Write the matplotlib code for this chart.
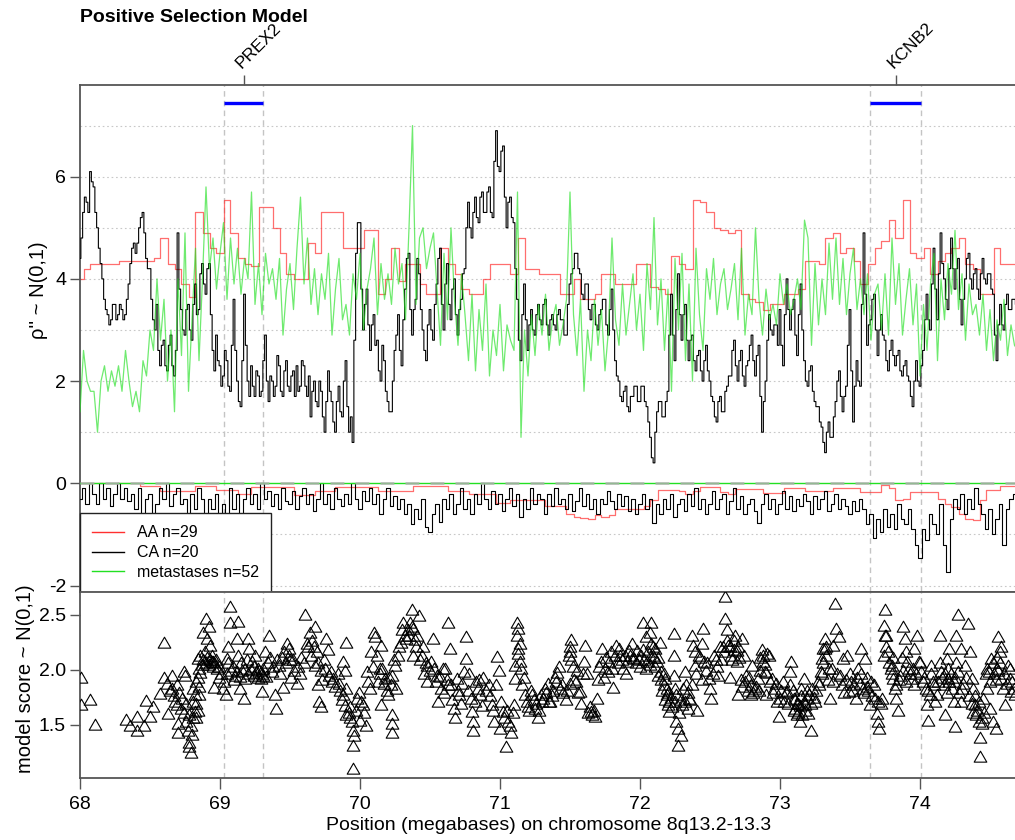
import numpy as np
import matplotlib
matplotlib.use("Agg")
import matplotlib.pyplot as plt
from matplotlib.path import Path
from matplotlib.lines import Line2D

plt.rcParams['font.family'] = ['Liberation Sans', 'DejaVu Sans']

# ---------------------------------------------------------------- data
# per-probe scores are binned on a regular grid along the chromosome (Mb)
GRID_START = 68.0
CA_POS_STEP = 0.0125   # CA positive-selection bins
BIN_STEP = 0.025       # CA negative and metastases bins
AA_STEP = 0.05         # AA bins

ca_pos = [
    4.4, 4.8, 5.3, 5.6, 5.5, 5.3, 6.1, 5.9,  5.8, 5.3, 5.0, 4.6, 4.3, 4.0, 3.6, 3.4,
    3.3, 3.1, 3.2, 3.5, 3.5, 3.2, 3.3, 3.5,  3.4, 3.2, 3.3, 3.6, 3.9, 4.3, 4.6, 4.7,
    4.5, 4.7, 5.0, 5.2, 5.3, 4.9, 4.4, 4.2,  4.2, 3.6, 3.2, 3.0, 3.5, 2.6, 2.3, 2.7,
    2.8, 2.3, 2.2, 2.7, 2.9, 2.3, 2.1, 2.6,  4.9, 3.8, 3.4, 3.0, 2.9, 3.4, 3.5, 3.0,
    2.8, 3.5, 3.9, 3.3, 3.4, 4.1, 4.3, 3.9,  3.7, 4.2, 4.3, 3.3, 2.6, 2.2, 2.9, 2.4,
    2.3, 1.9, 2.1, 2.6, 2.4, 1.9, 1.8, 2.7,  3.6, 2.6, 2.0, 1.6, 1.5, 2.4, 3.7, 2.7,
    2.0, 1.7, 2.3, 1.9, 1.7, 2.2, 2.1, 1.7,  1.8, 2.4, 2.9, 2.0, 1.6, 2.1, 2.0, 1.7,
    1.9, 2.5, 2.3, 1.8, 1.7, 2.2, 2.4, 1.9,  1.8, 2.1, 2.2, 1.7, 2.3, 1.8, 1.9, 2.4,
    2.3, 1.9, 1.7, 2.1, 1.3, 1.8, 2.0, 1.6,  1.5, 2.0, 1.8, 1.3, 1.0, 1.6, 2.2, 1.8,
    1.6, 1.2, 1.0, 1.6, 1.9, 1.4, 1.3, 2.0,  2.4, 1.5, 1.0, 1.3, 0.8, 2.8, 4.5, 5.1,
    5.1, 3.8, 3.0, 3.5, 3.8, 3.1, 2.6, 3.1,  3.3, 2.7, 2.8, 2.2, 2.0, 2.7, 2.4, 1.8,
    1.6, 1.4, 1.4, 2.0, 2.6, 2.9, 3.3, 2.6,  2.3, 3.2, 3.8, 4.4, 4.5, 3.4, 2.9, 3.4,
    3.6, 4.4, 4.1, 3.4, 3.0, 2.6, 2.4, 3.1,  3.4, 3.0, 2.8, 3.5, 3.9, 4.4, 4.6, 3.5,
    3.0, 3.9, 4.3, 3.5, 3.2, 3.8, 4.0, 3.3,  2.9, 3.4, 3.6, 4.1, 4.2, 5.0, 5.5, 5.0,
    4.8, 5.3, 5.6, 5.2, 5.1, 5.6, 5.7, 5.3,  5.3, 5.7, 5.8, 5.3, 5.2, 6.3, 6.9, 6.2,
    6.1, 6.5, 6.6, 5.6, 5.0, 5.5, 5.6, 5.2,  5.1, 4.2, 3.6, 2.8, 2.4, 3.3, 3.9, 3.2,
    2.6, 3.1, 3.4, 3.0, 2.9, 3.3, 3.5, 3.2,  3.1, 3.5, 3.6, 3.1, 2.9, 3.2, 3.3, 3.1,
    3.0, 3.3, 3.4, 3.2, 3.2, 2.9, 2.9, 3.5,  3.9, 4.1, 4.2, 4.5, 4.5, 4.2, 4.1, 3.7,
    3.6, 3.9, 3.9, 3.4, 3.2, 3.5, 3.5, 3.1,  3.0, 3.3, 3.4, 3.6, 3.6, 3.1, 2.9, 3.4,
    3.8, 3.0, 2.4, 2.1, 2.0, 1.7, 1.6, 1.8,  1.9, 1.5, 1.4, 1.7, 1.7, 1.9, 1.9, 1.6,
    1.6, 1.9, 1.9, 1.6, 1.5, 1.2, 0.9, 0.5,  0.4, 1.0, 1.4, 1.6, 1.6, 1.3, 1.3, 1.6,
    1.8, 2.9, 3.7, 2.9, 2.4, 3.4, 4.1, 3.3,  2.8, 3.3, 3.5, 2.8, 2.4, 2.8, 2.9, 2.4,
    2.2, 2.5, 2.6, 2.2, 2.0, 2.4, 2.7, 2.2,  2.0, 1.7, 1.6, 1.3, 1.2, 1.6, 1.7, 1.4,
    1.4, 1.8, 1.9, 2.1, 2.1, 2.6, 2.8, 2.3,  2.0, 2.4, 2.6, 2.1, 1.9, 2.3, 2.4, 2.7,
    2.9, 2.4, 2.1, 2.5, 2.7, 1.7, 1.0, 1.6,  2.0, 2.8, 3.3, 3.0, 2.9, 3.1, 3.1, 2.7,
    3.4, 2.7, 2.3, 3.3, 4.0, 3.4, 3.0, 3.4,  3.6, 2.9, 2.5, 3.3, 3.9, 3.0, 2.4, 2.0,
    1.9, 2.2, 2.3, 1.8, 1.6, 1.5, 1.5, 1.2,  1.1, 0.8, 0.6, 1.0, 1.2, 0.9, 0.9, 1.3,
    1.6, 2.0, 2.2, 1.7, 1.4, 1.7, 1.9, 2.7,  3.4, 2.2, 1.2, 1.9, 2.4, 2.0, 1.9, 3.5,
    4.9, 3.7, 2.7, 3.1, 3.2, 3.6, 3.7, 3.0,  2.5, 3.0, 3.3, 2.9, 2.8, 2.4, 2.2, 2.6,
    2.8, 2.5, 2.3, 2.5, 2.6, 2.2, 2.1, 2.3,  2.4, 2.1, 2.0, 1.7, 1.5, 2.0, 2.4, 2.0,
    1.9, 2.3, 2.6, 3.2, 3.7, 3.2, 3.0, 3.9,  4.6, 3.8, 3.2, 4.1, 4.9, 4.3, 4.0, 3.6,
    3.4, 4.2, 4.8, 4.2, 3.8, 4.2, 4.4, 3.6,  3.1, 3.6, 4.0, 4.4, 4.5, 4.0, 3.8, 4.1,
    4.2, 3.8, 3.6, 4.1, 4.4, 4.0, 3.9, 4.1,  4.1, 3.8, 3.7, 2.9, 2.4, 3.1, 3.5, 3.1,
    3.0, 3.5, 3.7, 3.4, 3.4, 3.6, 3.6, 3.5,  3.6,
]

ca_neg = [
    -0.3, -0.1, -0.4, 0.0,  -0.2, -0.4, 0.0, -0.3,  -0.1, -0.45, -0.2, 0.0,  -0.3, -0.1, -0.35, -0.2,
    -0.5, -0.1, -0.6, -0.3,  -0.2, -0.72, -0.4, -0.1,  -0.3, 0.0, -0.45, -0.2,  -0.1, -0.4, -0.3, -0.6,
    -0.2, -0.5, -0.1, -0.3,  -0.6, -0.3, -0.5, -0.2,  -0.78, -0.4, -0.6, -0.1,  -0.5, -0.2, -0.6, -0.3,
    -0.1, -0.4, -0.2, -0.5,  0.0, -0.3, -0.15, -0.45,  -0.2, -0.5, -0.1, -0.35,  -0.4, -0.15, -0.5, -0.25,
    -0.1, -0.4, -0.2, -0.55,  -0.3, 0.0, -0.4, -0.2,  -0.5, -0.1, -0.3, -0.45,  -0.2, -0.4, 0.0, -0.3,
    -0.5, -0.15, -0.35, -0.1,  -0.4, -0.2, -0.6, -0.3,  -0.1, -0.45, -0.25, -0.5,  -0.3, -0.6, -0.4, -0.8,
    -0.5, -0.7, -0.3, -0.85,  -0.95, -0.6, -0.4, -0.75,  -0.3, -0.5, -0.2, -0.6,  -0.4, -0.1, -0.5, -0.3,
    -0.6, -0.2, -0.4, 0.0,  -0.3, -0.5, -0.15, -0.4,  -0.2, -0.55, -0.3, -0.1,  -0.45, -0.2, -0.65, -0.3,
    -0.5, -0.1, -0.4, -0.2,  -0.3, -0.6, -0.2, -0.45,  -0.1, -0.4, -0.3, -0.5,  -0.2, -0.55, -0.35, -0.1,
    -0.45, -0.2, -0.5, -0.3,  -0.6, -0.3, -0.4, -0.15,  -0.35, -0.5, -0.2, -0.45,  -0.25, -0.55, -0.3, -0.6,
    -0.4, -0.2, -0.5, -0.3,  -0.78, -0.4, -0.6, -0.3,  -0.5, -0.2, -0.65, -0.4,  -0.3, -0.55, -0.2, -0.45,
    -0.1, -0.5, -0.3, -0.6,  -0.4, -0.15, -0.5, -0.3,  -0.2, -0.6, -0.35, -0.1,  -0.5, -0.25, -0.6, -0.4,
    -0.3, -0.55, -0.78, -0.4,  -0.2, -0.5, -0.3, -0.6,  -0.4, -0.15, -0.5, -0.25,  -0.55, -0.3, -0.45, -0.2,
    -0.35, -0.6, -0.25, -0.5,  -0.3, -0.15, -0.55, -0.4,  -0.2, -0.5, -0.3, -0.45,  -0.6, -0.35, -0.55, -0.3,
    -0.5, -0.8, -0.6, -1.08,  -0.7, -0.95, -0.5, -0.85,  -0.6, -0.9, -0.4, -0.7,  -0.8, -0.5, -0.9, -1.2,
    -1.47, -0.9, -1.1, -0.6,  -0.8, -1.0, -0.4, -1.2,  -1.73, -0.7, -0.3, -0.5,  -0.2, -0.6, -0.3, -0.5,
    -0.1, -0.4, -0.6, -0.9,  -0.5, -1.0, -0.7, -0.4,  -1.2, -0.5, -0.3, -0.2,  -0.3,
]

met_pos = [
    1.4, 2.6, 2.0, 1.8,  1.8, 1.0, 2.0, 2.3,  1.8, 2.2, 1.9, 2.3,  1.8, 2.6, 2.0, 1.5,
    1.8, 1.4, 2.4, 2.1,  3.0, 2.6, 4.0, 2.8,  3.6, 2.0, 3.0, 1.4,  4.0, 2.5, 4.9, 1.8,
    3.2, 4.6, 2.4, 4.0,  5.8, 4.2, 4.8, 3.8,  4.5, 5.1, 3.6, 4.8,  3.9, 4.6, 3.7, 4.4,
    4.0, 5.7, 3.5, 4.3,  3.3, 4.5, 3.9, 4.2,  3.6, 4.4, 2.9, 3.8,  4.3, 3.4, 4.6, 5.6,
    3.9, 4.8, 3.5, 4.2,  3.3, 4.1, 3.6, 4.5,  2.9, 3.8, 4.4, 3.2,  3.5, 2.9, 4.1, 3.6,
    4.5, 3.0, 3.8, 4.2,  4.8, 3.3, 4.3, 3.6,  4.1, 3.5, 4.6, 3.9,  4.3, 3.2, 5.0, 7.0,
    3.5, 4.8, 5.0, 4.2,  4.6, 4.9, 3.8, 2.7,  4.5, 3.2, 5.0, 3.6,  2.7, 4.1, 3.3, 2.4,
    3.7, 2.2, 3.4, 2.6,  3.9, 2.1, 3.0, 2.5,  3.5, 2.2, 3.1, 2.8,  2.6, 5.7, 0.9, 3.0,
    2.1, 3.3, 2.5, 3.5,  2.9, 3.7, 2.6, 3.2,  3.5, 2.7, 3.1, 3.6,  5.7, 3.3, 2.5, 3.6,
    1.8, 3.0, 2.4, 3.6,  2.7, 3.4, 2.2, 3.0,  4.8, 3.2, 2.7, 3.9,  2.9, 3.5, 4.1, 3.0,
    3.7, 2.6, 4.3, 3.4,  5.2, 3.1, 4.0, 2.6,  3.8, 1.8, 4.4, 3.0,  4.5, 2.4, 3.9, 2.0,
    4.6, 3.3, 2.6, 4.2,  3.6, 4.4, 3.3, 3.9,  4.2, 3.4, 3.8, 4.3,  3.2, 4.6, 2.9, 3.7,
    3.3, 5.0, 3.6, 2.9,  3.8, 3.2, 3.5, 3.1,  4.1, 3.5, 3.9, 3.3,  3.6, 4.0, 3.4, 5.15,
    4.8, 2.7, 4.3, 3.1,  4.0, 3.3, 4.7, 3.6,  4.8, 3.5, 4.4, 3.3,  4.1, 4.6, 3.4, 4.0,
    3.3, 4.1, 2.8, 3.7,  3.9, 3.0, 4.1, 2.9,  4.8, 3.5, 4.3, 2.9,  3.6, 4.2, 3.1, 3.9,
    2.1, 3.5, 2.6, 3.9,  4.5, 2.4, 4.0, 3.2,  4.3, 3.7, 4.95, 3.4,  4.1, 2.8, 3.9, 3.3,
    3.5, 2.9, 3.7, 2.6,  3.4, 2.4, 3.2, 2.8,  3.6, 2.5, 3.1, 2.7,  2.6,
]

aa_pos = [
    4.0, 4.2, 4.3, 4.3, 4.3, 4.3, 4.35, 4.35, 4.35, 4.35,
    4.35, 4.4, 4.8, 4.3, 4.2, 3.9, 3.65, 5.3, 4.9, 4.6,
    4.5, 5.55, 4.9, 4.4, 4.3, 4.25, 5.4, 5.4, 5.0, 4.5,
    4.1, 4.0, 4.0, 4.7, 4.5, 5.3, 5.3, 5.3, 4.6, 4.6,
    4.6, 4.95, 4.95, 3.7, 4.0, 4.6, 3.95, 4.3, 4.3, 3.9,
    3.7, 3.7, 4.6, 4.3, 4.1, 3.8, 3.7, 3.7, 4.0, 4.3,
    4.3, 4.3, 4.1, 4.8, 4.2, 4.2, 4.1, 4.1, 4.1, 3.7,
    3.7, 4.0, 3.6, 3.6, 3.7, 4.1, 4.1, 3.9, 3.9, 3.9,
    4.3, 4.3, 3.85, 3.8, 3.7, 4.45, 4.3, 4.2, 5.55, 5.5,
    5.3, 5.0, 4.95, 4.9, 4.95, 3.7, 3.6, 3.55, 3.4, 3.5,
    3.5, 3.7, 3.7, 3.8, 4.35, 4.35, 4.3, 4.8, 4.9, 4.5,
    4.6, 4.35, 3.9, 4.3, 4.6, 4.75, 5.15, 4.8, 5.55, 4.5,
    4.4, 4.6, 4.1, 4.35, 4.5, 4.6, 4.8, 4.3, 4.2, 3.7,
    3.7, 4.6, 4.3, 4.3, 4.3,
]

aa_neg = [
    0.0, 0.0, 0.0, 0.0, 0.0, 0.0, 0.0, 0.0, 0.0, -0.05,
    -0.05, -0.05, -0.15, -0.15, -0.15, -0.15, -0.15, -0.06, -0.06, -0.06,
    -0.13, -0.13, -0.13, -0.2, -0.2, -0.08, -0.08, -0.08, -0.08, -0.08,
    -0.08, -0.23, -0.23, -0.23, -0.15, -0.15, -0.15, -0.08, -0.08, -0.08,
    -0.08, -0.08, -0.08, -0.15, -0.15, -0.15, -0.15, -0.15, -0.05, -0.05,
    -0.05, -0.05, -0.05, -0.15, -0.15, -0.15, -0.2, -0.2, -0.2, -0.2,
    -0.39, -0.39, -0.33, -0.33, -0.33, -0.33, -0.33, -0.45, -0.45, -0.45,
    -0.6, -0.65, -0.68, -0.7, -0.62, -0.65, -0.62, -0.5, -0.5, -0.5,
    -0.5, -0.45, -0.33, -0.13, -0.13, -0.13, -0.15, -0.2, -0.15, -0.07,
    -0.07, -0.07, -0.17, -0.2, -0.12, -0.12, -0.12, -0.12, -0.18, -0.18,
    -0.18, -0.1, -0.1, -0.1, -0.15, -0.15, -0.15, -0.15, -0.1, -0.1,
    -0.1, -0.1, -0.17, -0.17, -0.17, -0.03, -0.1, -0.33, -0.3, -0.17,
    -0.17, -0.17, -0.17, -0.3, -0.4, -0.46, -0.6, -0.7, -0.72, -0.33,
    -0.13, -0.13, -0.05, -0.05, -0.05,
]

# combined model score per probe
score_pos = [
    68.01, 68.07, 68.01, 68.11, 68.33, 68.36, 68.41, 68.41, 68.46, 68.47, 68.50, 68.52,
    68.60, 68.57, 68.60, 68.63, 68.66, 68.66, 68.69, 68.69, 68.70, 68.70, 68.73, 68.74,
    68.75, 68.76, 68.77, 68.78, 68.79, 68.78, 68.81, 68.81, 68.82, 68.83, 68.83, 68.84,
    68.85, 68.85, 68.86, 68.88, 68.90, 68.92, 68.91, 68.93, 68.94, 68.93, 68.95, 68.96,
    68.98, 68.99, 68.96, 69.02, 69.04, 69.05, 69.06, 69.07, 69.07, 69.13, 69.08, 69.11,
    69.12, 69.13, 69.14, 69.17, 69.18, 69.20, 69.21, 69.23, 69.24, 69.25, 69.27, 69.29,
    69.30, 69.31, 69.32, 69.35, 69.37, 69.39, 69.40, 69.42, 69.45, 69.46, 69.49, 69.48,
    69.51, 69.52, 69.55, 69.57, 69.61, 69.62, 69.64, 69.68, 69.67, 69.68, 69.70, 69.71,
    69.72, 69.74, 69.76, 69.77, 69.79, 69.81, 69.85, 69.88, 69.89, 69.90, 69.90, 69.88,
    69.90, 69.93, 69.94, 69.95, 69.96, 69.95, 69.98, 70.00, 70.02, 70.04, 69.95, 70.05,
    70.07, 70.08, 70.10, 70.11, 70.13, 70.14, 70.15, 70.15, 70.18, 70.20, 70.23, 70.23,
    70.23, 70.23, 70.25, 70.26, 70.29, 70.30, 70.31, 70.33, 70.36, 70.37, 70.38, 70.42,
    70.38, 70.43, 70.45, 70.48, 70.48, 70.51, 70.52, 70.55, 70.56, 70.58, 70.61, 70.63,
    70.64, 70.65, 70.67, 70.68, 70.69, 70.71, 70.74, 70.76, 70.76, 70.79, 70.80, 70.81,
    70.81, 70.83, 70.86, 70.88, 70.92, 70.94, 70.96, 70.98, 70.99, 71.00, 71.02, 71.04,
    71.07, 71.08, 71.10, 71.11, 71.12, 71.13, 71.14, 71.13, 71.15, 71.11, 71.18, 71.20,
    71.23, 71.25, 71.27, 71.31, 71.35,
    71.32, 71.36, 71.39, 71.42, 71.43, 71.50, 71.49, 71.51, 71.51, 71.55, 71.57, 71.58,
    71.60, 71.61, 71.62, 71.65, 71.68, 71.69, 71.73, 71.74, 71.77, 71.81, 71.83, 71.86,
    71.88, 71.90, 71.93, 71.94, 71.96, 72.00, 72.02, 72.02, 72.04, 72.05, 72.07, 72.08,
    72.08, 72.09, 72.11, 72.12, 72.14, 72.15, 72.17, 72.18, 72.19, 72.20, 72.21, 72.24,
    72.24, 72.24, 72.25, 72.26, 72.27, 72.29, 72.27, 72.30, 72.32, 72.33, 72.35, 72.37,
    72.38, 72.39, 72.41, 72.42, 72.44, 72.45, 72.46, 72.49, 72.50, 72.51, 72.54, 72.56,
    72.57, 72.61, 72.61, 72.62, 72.63, 72.64, 72.67, 72.68, 72.69, 72.70, 72.73, 72.74,
    72.76, 72.79, 72.80, 72.82, 72.84, 72.87, 72.88, 72.89, 72.90, 72.92, 72.94, 72.96,
    72.99, 73.00, 73.02, 73.05, 73.07, 73.08, 73.10, 73.11, 73.12, 73.13, 73.14, 73.15,
    73.17, 73.18, 73.19, 73.20, 73.22, 73.23, 73.25, 73.27, 73.29, 73.30, 73.31, 73.32,
    73.33, 73.36, 73.37, 73.38, 73.39, 73.40, 73.42, 73.43, 73.45, 73.48, 73.49, 73.51,
    73.54, 73.56, 73.58, 73.59, 73.61, 73.62, 73.64, 73.67, 73.68, 73.69, 73.70, 73.71,
    73.73, 73.74, 73.75, 73.75, 73.76, 73.77, 73.80, 73.81, 73.82, 73.83, 73.84, 73.86,
    73.88, 73.89, 73.90, 73.92, 73.94, 73.96, 73.98, 73.99, 74.01, 74.04, 74.05, 74.06,
    74.07, 74.08, 74.09, 74.12, 74.14, 74.15, 74.18, 74.19, 74.20, 74.21, 74.23, 74.24,
    74.25, 74.26, 74.27, 74.27, 74.29, 74.30, 74.32, 74.34, 74.36, 74.37, 74.38, 74.39,
    74.40, 74.42, 74.43, 74.43, 74.45, 74.48, 74.49, 74.50, 74.51, 74.52, 74.54, 74.55,
    74.56, 74.57, 74.58, 74.59, 74.61, 74.63, 74.64, 74.65, 74.67,
    # denser clusters
    68.62, 68.64, 68.67, 68.68, 68.71, 68.72, 68.74, 68.76, 68.78, 68.79, 68.80, 68.81,
    68.82, 68.83, 68.84, 68.84, 68.85, 68.86, 68.87, 68.88, 68.89, 68.90, 68.91, 68.92,
    68.94, 68.95, 68.97, 68.99, 69.01, 69.03, 69.05, 69.06, 69.09, 69.10, 69.12, 69.14,
    69.15, 69.16, 69.18, 69.19, 69.20, 69.22, 69.24, 69.26, 69.27, 69.28, 69.30, 69.31,
    69.33, 69.34, 69.36, 69.38, 69.41, 69.43, 69.44, 69.47, 69.49, 69.50, 69.53, 69.56,
    69.58, 69.60, 69.63, 69.65, 69.66, 69.69, 69.70, 69.72, 69.73, 69.75, 69.78, 69.80,
    69.82, 69.84, 69.86, 69.87, 69.89, 69.92, 69.93, 69.97, 69.99, 70.01, 70.03, 70.06,
    70.09, 70.12, 70.14, 70.16, 70.17, 70.19, 70.21, 70.22, 70.24, 70.27, 70.28, 70.32,
    70.34, 70.35, 70.37, 70.39, 70.40, 70.41, 70.44, 70.46, 70.47, 70.50, 70.53, 70.54,
    70.57, 70.59, 70.60, 70.62, 70.63, 70.66, 70.70, 70.72, 70.73, 70.77, 70.78, 70.82,
    70.84, 70.85, 70.87, 70.90, 70.93, 70.95, 70.97, 71.01, 71.03, 71.05, 71.06, 71.09,
    71.12, 71.13, 71.14, 71.16, 71.17, 71.19, 71.21, 71.22, 71.24, 71.26, 71.28, 71.29,
    71.30, 71.33, 71.34, 71.37, 71.38, 71.40, 71.41, 71.44, 71.45, 71.47, 71.48, 71.50,
    71.50, 71.52, 71.53, 71.54, 71.56, 71.59, 71.63, 71.64, 71.66, 71.67, 71.70, 71.71,
    71.72, 71.75, 71.76, 71.78, 71.79, 71.80, 71.82, 71.84, 71.85, 71.87, 71.89, 71.91,
    71.92, 71.95, 71.97, 71.98, 71.99, 72.01, 72.03, 72.04, 72.06, 72.07, 72.09, 72.10,
    72.11, 72.13, 72.13, 72.15, 72.16, 72.17, 72.18, 72.19, 72.20, 72.21, 72.22, 72.23,
    72.25, 72.26, 72.28, 72.29, 72.31, 72.32, 72.34, 72.34, 72.36, 72.37, 72.39, 72.40,
    72.43, 72.44, 72.47, 72.48, 72.52, 72.53, 72.55, 72.58, 72.59, 72.60, 72.62, 72.64,
    72.65, 72.66, 72.67, 72.69, 72.70, 72.71, 72.72, 72.73, 72.75, 72.77, 72.78, 72.79,
    72.81, 72.83, 72.85, 72.86, 72.86, 72.88, 72.89, 72.90, 72.91, 72.93, 72.95, 72.97,
    72.98, 73.01, 73.03, 73.04, 73.06, 73.07, 73.09, 73.10, 73.11, 73.12, 73.13, 73.14,
    73.15, 73.16, 73.17, 73.18, 73.19, 73.21, 73.22, 73.24, 73.26, 73.28, 73.30, 73.31,
    73.32, 73.33, 73.34, 73.35, 73.38, 73.41, 73.44, 73.46, 73.47, 73.50, 73.52, 73.53,
    73.55, 73.57, 73.58, 73.60, 73.62, 73.63, 73.65, 73.66, 73.70, 73.72, 73.74, 73.76,
    73.78, 73.79, 73.80, 73.81, 73.83, 73.85, 73.87, 73.88, 73.90, 73.91, 73.93, 73.95,
    73.96, 73.97, 74.00, 74.02, 74.03, 74.06, 74.08, 74.10, 74.11, 74.13, 74.14, 74.16,
    74.17, 74.18, 74.19, 74.20, 74.21, 74.22, 74.24, 74.25, 74.26, 74.28, 74.29, 74.31,
    74.33, 74.35, 74.37, 74.38, 74.39, 74.41, 74.42, 74.44, 74.44, 74.46, 74.47, 74.48,
    74.50, 74.52, 74.53, 74.54, 74.55, 74.56, 74.57, 74.58, 74.60, 74.62, 74.64, 74.66,
    74.68,
]

score_val = [
    1.92, 1.72, 1.67, 1.49, 1.54, 1.48, 1.56, 1.44, 1.48, 1.71, 1.56, 1.65,
    2.24, 1.77, 1.92, 1.59, 1.94, 1.82, 1.85, 1.67, 1.50, 1.42, 1.73, 1.97,
    1.94, 1.52, 1.44, 1.33, 1.24, 1.29, 1.82, 1.70, 1.61, 1.55, 1.88, 2.09,
    2.00, 1.76, 2.12, 2.33, 2.45, 2.38, 2.27, 2.21, 2.12, 2.08, 2.06, 2.05,
    2.00, 1.92, 1.83, 1.82, 1.76, 2.09, 2.20, 2.56, 2.42, 2.43, 1.98, 1.94,
    2.27, 2.12, 1.82, 1.73, 1.91, 2.27, 2.18, 2.06, 1.94, 2.12, 2.00, 1.91,
    1.79, 1.94, 2.15, 2.30, 1.97, 1.76, 1.64, 2.03, 1.83, 2.15, 2.12, 2.23,
    1.92, 2.08, 1.86, 1.95, 2.49, 2.23, 2.33, 2.38, 2.20, 2.03, 1.85, 1.70,
    1.65, 2.08, 2.27, 2.17, 1.97, 1.91, 1.86, 2.06, 1.98, 2.24, 1.82, 1.76,
    1.58, 1.65, 1.52, 1.44, 1.39, 1.30, 1.73, 1.53, 1.67, 1.48, 1.09, 1.97,
    1.82, 2.15, 2.33, 2.29, 1.88, 2.00, 2.21, 1.67, 1.91, 1.76, 1.94, 1.58,
    1.50, 1.42, 2.03, 1.82, 2.24, 2.35, 2.42, 2.27, 2.42, 2.54, 2.36, 2.48,
    2.12, 2.08, 2.20, 2.03, 1.88, 2.06, 2.27, 1.94, 1.70, 1.82, 2.00, 2.42,
    2.18, 1.85, 1.64, 1.55, 1.91, 1.76, 1.97, 2.29, 2.09, 1.73, 1.61, 1.52,
    1.44, 1.88, 1.76, 1.92, 1.85, 1.67, 1.52, 2.11, 1.98, 1.45, 1.61, 1.29,
    1.48, 1.42, 1.67, 1.91, 2.42, 2.36, 2.23, 2.14, 2.00, 2.03, 1.76, 1.65,
    1.76, 1.64, 1.55, 1.73, 1.70,
    1.82, 1.70, 1.92, 2.02, 1.82, 1.86, 2.12, 2.26, 2.08, 1.98, 1.79, 1.68,
    2.06, 2.21, 1.95, 1.61, 1.56, 1.73, 2.18, 1.92, 1.97, 1.83, 2.21, 2.12,
    2.00, 1.95, 2.12, 2.23, 2.09, 2.02, 2.42, 2.17, 2.29, 2.06, 2.33, 2.42,
    2.23, 2.12, 2.18, 2.06, 2.24, 1.97, 1.85, 1.91, 1.76, 1.67, 1.61, 2.32,
    2.12, 1.94, 1.82, 1.52, 1.45, 1.39, 1.30, 1.67, 1.97, 1.85, 1.73, 2.30,
    2.21, 2.03, 1.62, 2.12, 2.23, 2.36, 2.06, 1.91, 1.82, 1.73, 2.08, 1.94,
    2.20, 2.65, 2.45, 2.35, 2.21, 1.92, 2.17, 2.30, 2.06, 1.76, 2.27, 2.12,
    1.94, 1.85, 2.03, 1.82, 1.91, 2.17, 2.06, 1.97, 1.76, 2.12, 1.91, 1.82,
    1.56, 1.73, 1.88, 1.79, 1.97, 2.06, 1.73, 1.64, 1.58, 1.68, 1.52, 1.82,
    1.91, 1.67, 1.73, 1.59, 1.44, 1.82, 1.70, 1.88, 1.97, 2.09, 2.18, 2.27,
    2.12, 1.73, 2.00, 2.21, 2.59, 2.36, 2.29, 1.94, 2.09, 2.12, 1.79, 1.88,
    1.73, 2.00, 2.18, 1.82, 2.09, 1.92, 1.67, 1.85, 1.73, 1.59, 1.52, 1.45,
    1.73, 2.39, 2.54, 2.30, 2.20, 2.15, 2.03, 1.91, 1.82, 1.73, 1.62, 1.94,
    2.38, 2.27, 2.15, 2.00, 1.91, 2.18, 2.30, 2.06, 1.97, 1.82, 1.67, 1.53,
    1.76, 2.03, 1.88, 1.76, 2.30, 1.97, 1.58, 2.09, 1.91, 2.18, 1.82, 1.70,
    1.47, 2.30, 2.49, 1.97, 2.18, 1.82, 2.03, 2.41, 2.15, 1.91, 1.82, 1.67,
    1.58, 1.52, 1.37, 1.20, 1.73, 1.82, 1.97, 1.64, 2.09, 1.52, 1.45, 2.00,
    2.29, 2.15, 1.91, 1.82, 1.67, 2.03, 1.91, 1.79, 1.82,
    # denser clusters
    1.86, 1.80, 1.75, 1.70, 1.78, 1.64, 1.60, 1.68, 1.58, 1.48, 1.40, 1.55,
    1.76, 1.68, 1.92, 1.62, 1.84, 1.96, 2.04, 2.08, 2.15, 2.05, 2.10, 2.04,
    2.06, 2.02, 2.08, 2.02, 1.95, 1.88, 1.95, 2.05, 2.02, 1.90, 1.97, 1.93,
    2.05, 1.98, 2.00, 2.08, 1.95, 1.99, 2.02, 1.96, 1.92, 1.98, 1.95, 2.00,
    1.93, 2.05, 2.10, 2.02, 2.08, 1.95, 2.10, 2.05, 2.18, 2.08, 1.98, 2.02,
    2.10, 2.05, 2.20, 2.12, 2.25, 2.15, 2.05, 1.98, 1.90, 2.00, 1.94, 1.88,
    1.84, 1.95, 1.80, 1.72, 1.66, 1.60, 1.55, 1.62, 1.78, 1.70, 1.60, 1.88,
    2.02, 2.12, 1.95, 2.00, 1.86, 1.80, 1.92, 1.85, 2.08, 2.12, 2.20, 2.30,
    2.35, 2.30, 2.38, 2.26, 2.20, 2.30, 2.12, 1.95, 2.05, 1.98, 2.00, 1.88,
    1.93, 2.00, 1.78, 1.90, 1.85, 1.72, 1.80, 1.68, 1.86, 1.80, 1.95, 1.70,
    1.82, 1.90, 1.66, 1.80, 1.75, 1.62, 1.85, 1.70, 1.55, 1.62, 1.52, 1.60,
    2.30, 2.18, 2.06, 1.85, 1.92, 1.70, 1.62, 1.80, 1.72, 1.68, 1.62, 1.76,
    1.70, 1.78, 1.86, 1.75, 1.80, 1.88, 1.96, 1.85, 1.78, 1.72, 1.80, 2.20,
    2.15, 2.02, 1.90, 1.88, 1.78, 1.95, 1.60, 1.65, 1.58, 1.62, 1.90, 2.02,
    2.06, 2.00, 2.10, 2.06, 2.15, 2.00, 2.12, 2.05, 2.18, 2.08, 2.12, 2.06,
    2.16, 2.10, 2.05, 2.16, 2.08, 2.12, 2.08, 2.00, 2.15, 2.04, 2.20, 2.10,
    2.02, 1.94, 2.10, 1.90, 1.80, 1.95, 1.72, 1.82, 1.78, 1.70, 1.74, 1.65,
    1.70, 1.76, 1.60, 1.72, 1.82, 1.70, 1.78, 1.64, 1.72, 1.85, 2.15, 1.95,
    2.10, 1.90, 1.98, 2.05, 1.95, 2.12, 2.02, 2.08, 2.20, 2.15, 2.25, 2.20,
    2.12, 2.08, 2.25, 2.16, 2.20, 2.10, 1.90, 1.84, 1.88, 1.80, 1.92, 1.76,
    1.78, 1.84, 1.80, 1.98, 2.10, 2.12, 2.04, 1.96, 2.14, 1.88, 1.78, 1.86,
    1.70, 1.80, 1.70, 1.78, 1.68, 1.85, 1.80, 1.62, 1.72, 1.68, 1.60, 1.66,
    1.75, 1.58, 1.70, 1.62, 1.80, 1.76, 1.68, 1.74, 1.80, 1.85, 1.95, 2.05,
    2.18, 2.20, 1.90, 2.00, 1.88, 1.95, 1.85, 1.78, 1.90, 1.95, 1.80, 1.85,
    1.92, 1.86, 1.95, 1.78, 1.84, 1.80, 1.88, 1.75, 1.70, 1.68, 2.12, 2.30,
    2.05, 2.00, 1.95, 2.10, 1.85, 1.90, 2.10, 1.98, 1.88, 2.06, 1.95, 2.00,
    1.85, 1.95, 2.05, 1.88, 1.92, 1.80, 1.95, 1.85, 1.70, 1.88, 2.05, 1.92,
    1.85, 1.95, 1.78, 2.00, 1.88, 1.95, 1.88, 1.92, 2.05, 1.78, 1.70, 1.86,
    1.92, 1.75, 1.68, 1.60, 1.75, 1.62, 1.70, 1.55, 1.50, 1.60, 1.95, 2.00,
    1.88, 2.05, 1.95, 1.90, 2.10, 1.98, 2.05, 2.20, 1.95, 1.86, 2.00, 1.88,
    1.76,
]

genes = ["PREX2", "KCNB2"]
gene_start = [69.03, 73.64]
gene_end = [69.31, 74.01]

series_labels = ["AA n=29", "CA n=20", "metastases n=52"]
series_colors = ["#ff3030", "#000000", "#22e022"]

# ---------------------------------------------------------------- layout
W, H = 1015, 840
fig = plt.figure(figsize=(W / 100, H / 100), dpi=100)
left_px, right_px = 80, 1018
ax1 = fig.add_axes([left_px / W, 1 - 592 / H, (right_px - left_px) / W, (592 - 85) / H])
ax2 = fig.add_axes([left_px / W, 1 - 778 / H, (right_px - left_px) / W, (778 - 592) / H])

x_lo = 68.0
x_hi = 68.0 + (right_px - left_px) / 140.0
for ax in (ax1, ax2):
    ax.set_xlim(x_lo, x_hi)
ax1.set_ylim(-2.127, 7.794)
ax2.set_ylim(1.018, 2.709)

ca_pos_x = GRID_START + CA_POS_STEP * np.arange(len(ca_pos))
ca_neg_x = GRID_START + BIN_STEP * np.arange(len(ca_neg))
met_x = GRID_START + BIN_STEP * np.arange(len(met_pos))
aa_x = GRID_START + AA_STEP * np.arange(len(aa_pos))

grid_kw = dict(color="#c8c8c8", lw=0.8, ls=(0, (1.5, 2.5)), zorder=0)
for yv in [-2, -1, 1, 2, 3, 4, 5, 6, 7]:
    ax1.axhline(yv, **grid_kw)

# gene boundaries through both panels
for ax in (ax1, ax2):
    for g0, g1 in zip(gene_start, gene_end):
        ax.axvline(g0, color="#c4c4c4", lw=1.0, ls=(0, (4, 3)), zorder=0.5)
        ax.axvline(g1, color="#c4c4c4", lw=1.0, ls=(0, (4, 3)), zorder=0.5)

# score traces
ax1.plot(aa_x, aa_pos, color=series_colors[0], lw=0.9, alpha=0.7,
         drawstyle="steps-mid", zorder=2)
ax1.plot(aa_x, aa_neg, color=series_colors[0], lw=0.9, alpha=0.7,
         drawstyle="steps-mid", zorder=2)
ax1.plot(ca_pos_x, ca_pos, color=series_colors[1], lw=0.8, drawstyle="steps-mid", zorder=3)
ax1.plot(ca_neg_x, ca_neg, color=series_colors[1], lw=0.8, drawstyle="steps-mid", zorder=3)
ax1.plot(met_x, met_pos, color=series_colors[2], lw=0.9, alpha=0.65, zorder=4)
ax1.axhline(0, color=series_colors[2], lw=1.0, zorder=4)
ax1.axhline(0, color="#b0b0b0", lw=2.0, ls=(0, (5, 4)), alpha=0.8, zorder=5)

# gene extents
ax1.hlines([7.44] * len(genes), gene_start, gene_end, color="#0000ff", lw=2.4, zorder=6)

handles = [Line2D([], [], color=c, lw=1.0) for c in series_colors]
leg = ax1.legend(handles, series_labels, loc="lower left", bbox_to_anchor=(0, 0),
                 borderaxespad=0, fontsize=11.5, frameon=True, fancybox=False,
                 handlelength=2.0, handletextpad=0.8, labelspacing=0.3,
                 borderpad=0.75)
leg.get_frame().set_edgecolor("#222222")
leg.get_frame().set_linewidth(1.0)
leg.get_frame().set_alpha(1.0)
leg.set_zorder(10)

# model score triangles (equilateral outline)
tri = Path([(0, 1), (-0.866, -0.5), (0.866, -0.5), (0, 1)],
           [Path.MOVETO, Path.LINETO, Path.LINETO, Path.CLOSEPOLY])
ax2.plot(score_pos, score_val, ls="none", marker=tri, ms=10.5,
         mfc="none", mec="black", mew=0.8, zorder=3)

# axes styling
spine_c = "#555555"
for ax in (ax1, ax2):
    for s in ("left", "top", "bottom"):
        ax.spines[s].set_color(spine_c)
        ax.spines[s].set_linewidth(1.3)
    ax.spines["right"].set_visible(False)
    ax.tick_params(axis="y", direction="out", length=7, width=1, colors=spine_c,
                   labelcolor="black", labelsize=14, pad=3)

ax1.set_yticks([-2, 0, 2, 4, 6])
ax1.set_yticklabels(["-2", "0", "2", "4", "6"])
ax2.set_yticks([1.5, 2.0, 2.5])
ax2.set_yticklabels(["1.5", "2.0", "2.5"])

gene_mid = [(a + b) / 2 for a, b in zip(gene_start, gene_end)]
ax1.set_xticks(gene_mid)
ax1.set_xticklabels(genes, rotation=45, ha="left", va="bottom",
                    rotation_mode="anchor", fontsize=12.5)
ax1.tick_params(axis="x", top=True, bottom=False, labeltop=True, labelbottom=False,
                length=7, width=1, colors=spine_c, labelcolor="black", pad=3)

ax2.set_xticks([68, 69, 70, 71, 72, 73, 74])
ax2.set_xticklabels(["68", "69", "70", "71", "72", "73", "74"])
ax2.tick_params(axis="x", top=False, bottom=True, labelbottom=True, labeltop=False,
                length=8, width=1, colors=spine_c, labelcolor="black", labelsize=14, pad=5)

ax1.set_ylabel("ρ'' ~ N(0,1)", fontsize=14.5)
ax1.yaxis.set_label_coords((48 - left_px) / (right_px - left_px), 0.596)
ax2.set_ylabel("model score ~ N(0,1)", fontsize=14.5)
ax2.yaxis.set_label_coords((35 - left_px) / (right_px - left_px), 0.532)
ax2.set_xlabel("Position (megabases) on chromosome 8q13.2-13.3", fontsize=14, labelpad=3)

fig.text(left_px / W, 1 - 18 / H, "Positive Selection Model", fontsize=14,
         fontweight="bold", ha="left", va="center")

fig.savefig("out.png", dpi=100)
